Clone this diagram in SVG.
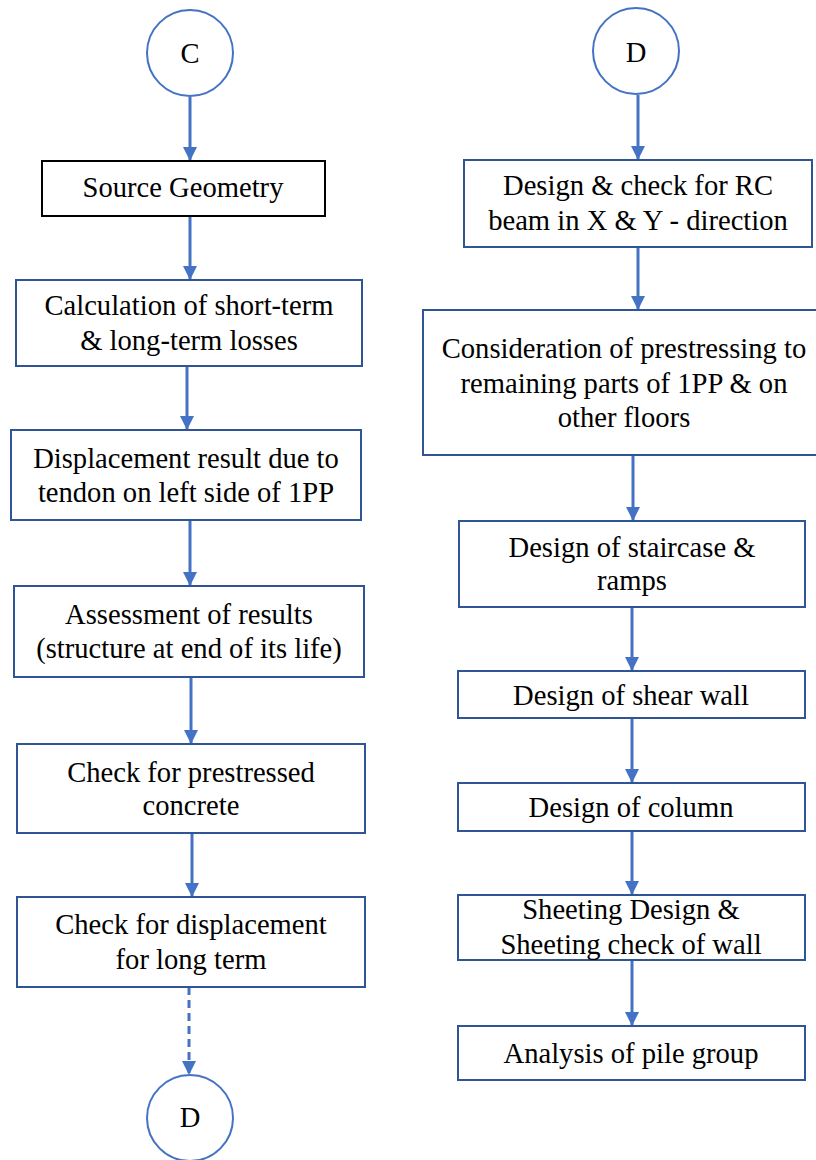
<svg xmlns="http://www.w3.org/2000/svg" width="816" height="1160" viewBox="0 0 816 1160">
  <style>
    .box { fill: #ffffff; stroke: #2F5597; stroke-width: 2; }
    .box-dark { fill: #ffffff; stroke: #000000; stroke-width: 2; }
    .conn { fill: #ffffff; stroke: #4472C4; stroke-width: 2; }
    .edge { stroke: #4472C4; stroke-width: 3; fill: none; marker-end: url(#arrow); }
    .dashed { stroke-dasharray: 8 5; }
    .lbl { font-family: 'Liberation Serif', 'Times New Roman', serif; font-size: 28.6px; fill: #000000; text-anchor: middle; }
  </style>
  <defs>
    <marker id="arrow" markerUnits="userSpaceOnUse" markerWidth="16" markerHeight="14" refX="14" refY="7" orient="auto">
      <path d="M0,0 L14,7 L0,14 Z" fill="#4472C4"/>
    </marker>
  </defs>
  <rect width="816" height="1160" fill="#ffffff"/>

  <!-- connectors -->
  <g id="connectors">
    <line class="edge" x1="190" y1="97" x2="190" y2="161"/>
    <line class="edge" x1="190" y1="216" x2="190" y2="280"/>
    <line class="edge" x1="187" y1="366" x2="187" y2="430"/>
    <line class="edge" x1="190" y1="520" x2="190" y2="586"/>
    <line class="edge" x1="191" y1="677" x2="191" y2="744"/>
    <line class="edge" x1="192" y1="833" x2="192" y2="897"/>
    <line class="edge dashed" x1="189" y1="987" x2="189" y2="1075"/>

    <line class="edge" x1="638" y1="95" x2="638" y2="160"/>
    <line class="edge" x1="638" y1="247" x2="638" y2="310"/>
    <line class="edge" x1="633" y1="455" x2="633" y2="521"/>
    <line class="edge" x1="632" y1="607" x2="632" y2="671"/>
    <line class="edge" x1="632" y1="718" x2="632" y2="783"/>
    <line class="edge" x1="632" y1="831" x2="632" y2="895"/>
    <line class="edge" x1="632" y1="960" x2="632" y2="1026"/>
  </g>

  <g class="lbl">
  <!-- left column -->
  <g id="node-c">
    <circle class="conn" cx="190" cy="53" r="43"/>
    <text x="190" y="63">C</text>
  </g>
  <g id="node-source-geometry">
    <rect class="box-dark" x="42" y="161" width="283" height="55"/>
    <text x="183" y="197">Source Geometry</text>
  </g>
  <g id="node-losses">
    <rect class="box" x="16" y="280" width="346" height="86"/>
    <text x="189" y="315">Calculation of short-term</text>
    <text x="189" y="350">&amp; long-term losses</text>
  </g>
  <g id="node-displacement">
    <rect class="box" x="11" y="430" width="350" height="90"/>
    <text x="186" y="468">Displacement result due to</text>
    <text x="186" y="502">tendon on left side of 1PP</text>
  </g>
  <g id="node-assessment">
    <rect class="box" x="14" y="586" width="350" height="91"/>
    <text x="189" y="624">Assessment of results</text>
    <text x="189" y="658">(structure at end of its life)</text>
  </g>
  <g id="node-prestressed">
    <rect class="box" x="17" y="744" width="348" height="89"/>
    <text x="191" y="782">Check for prestressed</text>
    <text x="191" y="815">concrete</text>
  </g>
  <g id="node-long-term">
    <rect class="box" x="17" y="897" width="348" height="90"/>
    <text x="191" y="934">Check for displacement</text>
    <text x="191" y="969">for long term</text>
  </g>
  <g id="node-d-bottom">
    <circle class="conn" cx="190" cy="1118" r="43"/>
    <text x="190" y="1127">D</text>
  </g>

  <!-- right column -->
  <g id="node-d-top">
    <circle class="conn" cx="636" cy="51" r="43"/>
    <text x="636" y="62">D</text>
  </g>
  <g id="node-rc-beam">
    <rect class="box" x="464" y="160" width="348" height="87"/>
    <text x="638" y="195">Design &amp; check for RC</text>
    <text x="638" y="230">beam in X &amp; Y - direction</text>
  </g>
  <g id="node-prestressing">
    <rect class="box" x="423" y="310" width="400" height="145"/>
    <text x="624" y="358">Consideration of prestressing to</text>
    <text x="624" y="393">remaining parts of 1PP &amp; on</text>
    <text x="624" y="427">other floors</text>
  </g>
  <g id="node-staircase">
    <rect class="box" x="459" y="521" width="346" height="86"/>
    <text x="632" y="557">Design of staircase &amp;</text>
    <text x="632" y="590">ramps</text>
  </g>
  <g id="node-shear-wall">
    <rect class="box" x="458" y="671" width="347" height="47"/>
    <text x="631" y="705">Design of shear wall</text>
  </g>
  <g id="node-column">
    <rect class="box" x="458" y="783" width="347" height="48"/>
    <text x="631" y="817">Design of column</text>
  </g>
  <g id="node-sheeting">
    <rect class="box" x="458" y="895" width="347" height="65"/>
    <text x="631" y="919">Sheeting Design &amp;</text>
    <text x="631" y="954">Sheeting check of wall</text>
  </g>
  <g id="node-pile-group">
    <rect class="box" x="458" y="1026" width="347" height="54"/>
    <text x="631" y="1063">Analysis of pile group</text>
  </g>
  </g>
</svg>
